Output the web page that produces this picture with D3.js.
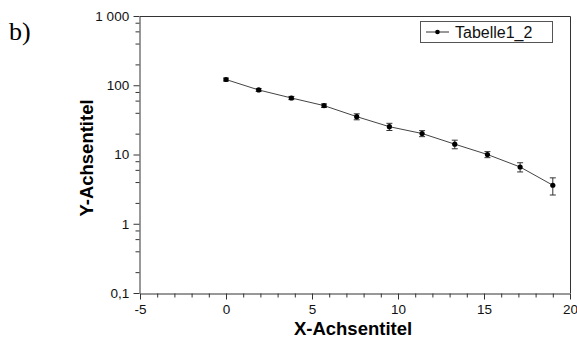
<!DOCTYPE html>
<html>
<head>
<meta charset="utf-8">
<script src="https://cdn.jsdelivr.net/npm/d3@7"></script>
<style>
  body { margin: 0; background: #fff; }
  text { font-family: "Liberation Sans", Arial, sans-serif; }
</style>
</head>
<body>
<div id="viz"></div>
<script>
// data
var xVals = [0, 1.9, 3.8, 5.7, 7.6, 9.5, 11.4, 13.3, 15.2, 17.1, 19.0];
var yVals = [121, 85.5, 65.5, 50.8, 35.2, 25.2, 20.1, 14.1, 10.0, 6.6, 3.6];
var yErr  = [6, 4, 3.5, 3, 3.5, 3, 2, 2, 1, 1, 1];
var xTicks = [-5, 0, 5, 10, 15, 20];
var yTicks = [0.1, 1, 10, 100, 1000];
var yTickLabels = ["0,1", "1", "10", "100", "1 000"];
var seriesName = "Tabelle1_2";

var W = 577, H = 338;
var pL = 140, pR = 570, pT = 16, pB = 293;

var svg = d3.select("#viz")
  .append("svg")
  .attr("width", W)
  .attr("height", H);

var x = d3.scaleLinear().domain([-5, 20]).range([pL, pR]);
var y = d3.scaleLog().domain([0.1, 1000]).range([pB, pT]);

// frame top + right
svg.append("path")
  .attr("d", "M" + pL + "," + (pT + 0.5) + "H" + (pR + 0.5) + "V" + pB)
  .attr("fill", "none").attr("stroke", "#333").attr("stroke-width", 1);

// x axis
var xMinor = d3.range(-5, 21, 1).filter(function(v) { return v % 5 != 0; });
var xg = svg.append("g").attr("transform", "translate(0," + (pB + 0.5) + ")");
xg.call(d3.axisBottom(x).tickValues(xTicks).tickSize(6).tickSizeOuter(0)
  .tickFormat(function(d) { return String(d); }));
xg.selectAll(".minor").data(xMinor).enter().append("line")
  .attr("x1", function(d) { return x(d) + 0.5; }).attr("x2", function(d) { return x(d) + 0.5; })
  .attr("y1", 0).attr("y2", 4).attr("stroke", "#333");
xg.selectAll("text").style("font-size", "13.5px").attr("fill", "#111").attr("dy", "0.85em");

// y axis
var yMinor = [];
[0.1, 1, 10, 100].forEach(function(b) { [2, 4, 6, 8].forEach(function(m) { yMinor.push(b * m); }); });
var yg = svg.append("g").attr("transform", "translate(" + (pL - 0.5) + ",0)");
yg.call(d3.axisLeft(y).tickValues(yTicks).tickSize(6).tickSizeOuter(0)
  .tickFormat(function(d, i) { return yTickLabels[i]; }));
yg.selectAll(".minor").data(yMinor).enter().append("line")
  .attr("y1", function(d) { return y(d) + 0.5; }).attr("y2", function(d) { return y(d) + 0.5; })
  .attr("x1", 0).attr("x2", -4).attr("stroke", "#333");
yg.selectAll("text").style("font-size", "13.5px").attr("fill", "#111").attr("dx", "-0.1em");

svg.selectAll(".domain").attr("stroke", "#333");
svg.selectAll(".tick line").attr("stroke", "#333");

// line
var pts = xVals.map(function(v, i) { return { x: v, y: yVals[i], e: yErr[i] }; });
svg.append("path")
  .datum(pts)
  .attr("fill", "none").attr("stroke", "#444").attr("stroke-width", 1)
  .attr("d", d3.line().x(function(d) { return x(d.x); }).y(function(d) { return y(d.y); }));

// error bars
var eb = svg.selectAll(".eb").data(pts).enter().append("g").attr("stroke", "#333").attr("stroke-width", 1);
eb.append("line")
  .attr("x1", function(d) { return x(d.x); }).attr("x2", function(d) { return x(d.x); })
  .attr("y1", function(d) { return y(d.y + d.e); }).attr("y2", function(d) { return y(d.y - d.e); });
eb.append("line")
  .attr("x1", function(d) { return x(d.x) - 3; }).attr("x2", function(d) { return x(d.x) + 3; })
  .attr("y1", function(d) { return y(d.y + d.e); }).attr("y2", function(d) { return y(d.y + d.e); });
eb.append("line")
  .attr("x1", function(d) { return x(d.x) - 3; }).attr("x2", function(d) { return x(d.x) + 3; })
  .attr("y1", function(d) { return y(d.y - d.e); }).attr("y2", function(d) { return y(d.y - d.e); });

svg.selectAll(".dot").data(pts).enter().append("circle")
  .attr("cx", function(d) { return x(d.x); })
  .attr("cy", function(d) { return y(d.y); })
  .attr("r", 2.6).attr("fill", "#000");

// legend
var lg = svg.append("g");
lg.append("rect").attr("x", 420.5).attr("y", 21.5).attr("width", 132).attr("height", 21)
  .attr("fill", "#fff").attr("stroke", "#555");
lg.append("line").attr("x1", 426).attr("x2", 449).attr("y1", 32).attr("y2", 32).attr("stroke", "#333");
lg.append("circle").attr("cx", 437.5).attr("cy", 32).attr("r", 2.3).attr("fill", "#000");
lg.append("text").attr("x", 455).attr("y", 38).style("font-size", "16px").attr("fill", "#111").text(seriesName);

// titles
svg.append("text").attr("x", 353).attr("y", 335)
  .attr("text-anchor", "middle").style("font-size", "18.5px").attr("font-weight", "bold").text("X-Achsentitel");
svg.append("text").attr("transform", "translate(93,158) rotate(-90)")
  .attr("text-anchor", "middle").style("font-size", "18.5px").attr("font-weight", "bold").text("Y-Achsentitel");

svg.append("text").attr("x", 9).attr("y", 40)
  .style("font-family", "'Liberation Serif', 'Times New Roman', serif").style("font-size", "26px").text("b)");
</script>
</body>
</html>
